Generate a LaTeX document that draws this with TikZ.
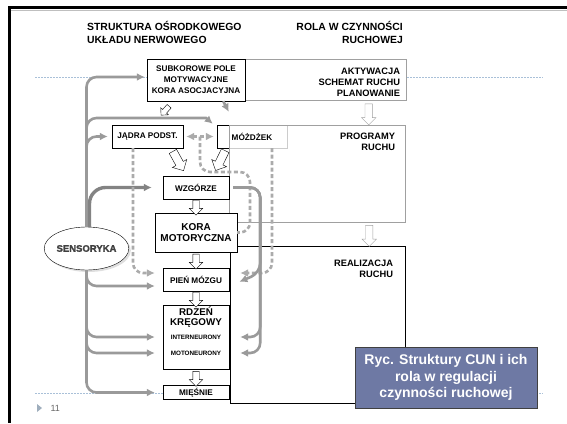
\documentclass[tikz,border=0pt]{standalone}
\usepackage{fontspec}
\setmainfont{Liberation Sans}
\newfontfamily\sensfont[FakeBold=1.6]{Liberation Sans Bold}
\usetikzlibrary{arrows.meta,calc,shapes,shadows}
\definecolor{linegray}{HTML}{9A9A9A}
\definecolor{dashgray}{HTML}{ABABAB}
\definecolor{boxgray}{HTML}{A0A0A0}
\definecolor{capblue}{HTML}{6E79A4}
\definecolor{guideblue}{HTML}{A9C0D8}
\tikzset{
    %Define standard arrow tip
    >={Latex[length=8pt, width=8pt]},
    heading/.style={
      inner sep=0pt,
      font=\bfseries\fontsize{10.4}{13}\selectfont},
    box/.style={
      rectangle,
      draw=black, fill=white, thin,
      inner sep=1pt,
      align=center,
      font=\bfseries\fontsize{8.2}{11}\selectfont},
    rolebox/.style={
      rectangle,
      draw=boxgray, fill=white, thin},
    roletext/.style={
      anchor=north east,
      align=right, inner sep=0pt,
      font=\bfseries\fontsize{9.3}{11}\selectfont},
    feed/.style={
      ->, draw=linegray, line width=2.6pt,
      rounded corners=10pt},
    dfeed/.style={
      feed, draw=dashgray, dash pattern=on 4pt off 2.5pt},
    hollow/.style={
      single arrow, draw=black, fill=white, thin,
      inner xsep=0pt, inner ysep=3pt,
      minimum height=15pt, minimum width=0pt,
      single arrow head extend=3.5pt},
    guide/.style={
      draw=guideblue, line width=0.7pt, dash pattern=on 2pt off 1pt}
}
\begin{document}
\begin{tikzpicture}[x=1pt, y=-1pt]
    \useasboundingbox (0,0) rectangle (567,423);
    % slide frame
    \fill (8,5.5) rectangle (567,9);
    \fill (8,5.5) rectangle (10.5,423);
    \draw[gray!50] (10.5,10) -- (567,10);
    \draw[guide] (35,77) -- (543,77);
    \draw[guide] (35,393) -- (543,393);
    \fill[guideblue!80!black!80] (37,404) -- (42,408) -- (37,412) -- cycle;
    \node (slideno) [anchor=west, font=\fontsize{9}{10}\selectfont, text=black!60] at (47,408) {11};

    % headings
    \node (head-l) [heading, anchor=north west, align=left] at (87,21)
          {STRUKTURA OŚRODKOWEGO\\UKŁADU NERWOWEGO};
    \node (head-r) [heading, anchor=north east, align=right] at (403,21)
          {ROLA W CZYNNOŚCI\\RUCHOWEJ};

    % role boxes
    \node (akt) [rolebox, minimum width=206pt, minimum height=41pt] at (303,79.5) {};
    \node (real) [rolebox, draw=black, minimum width=175pt, minimum height=157pt] at (317.5,324.5) {};

    % structures
    \node (subkor) [box, minimum width=98pt, minimum height=42pt] at (196,80)
          {SUBKOROWE POLE\\MOTYWACYJNE\\KORA ASOCJACYJNA};
    \node (jadra) [box, minimum width=71pt, minimum height=23pt] at (147.5,136.5)
          {JĄDRA PODST.};
    \node (mozdzek) [box, draw=gray!40, minimum width=70pt, minimum height=23pt] at (252,136.5)
          {MÓŻDŻEK};
    \draw ([xshift=12pt]mozdzek.north west) -- (mozdzek.north west)
          -- (mozdzek.south west) -- ([xshift=12pt]mozdzek.south west);
    \node (prog) [rolebox, fill=none, minimum width=176pt, minimum height=97pt] at (317,173.5) {};
    \node (wzgorze) [box, minimum width=66pt, minimum height=23pt] at (196,187.5)
          {WZGÓRZE};
    \node (kora) [box, font=\bfseries\fontsize{10}{11}\selectfont,
          minimum width=82pt, minimum height=39pt] at (196,232.5)
          {KORA\\MOTORYCZNA};
    \node (pien) [box, minimum width=66pt, minimum height=23pt] at (196,279.5)
          {PIEŃ MÓZGU};
    \node (rdzen) [box, minimum width=66pt, minimum height=64pt] at (196,337) {};
    \node (rdzen-txt) [anchor=north, inner sep=0pt, align=center,
          font=\bfseries\fontsize{9.8}{9.5}\selectfont] at ([yshift=-2pt]rdzen.north)
          {RDZEŃ\\KRĘGOWY};
    \node (inter) [font=\bfseries\fontsize{6.3}{7}\selectfont, inner sep=0pt] at (rdzen.center)
          {INTERNEURONY};
    \node (moto) [font=\bfseries\fontsize{6.3}{7}\selectfont, inner sep=0pt] at ([yshift=-16pt]rdzen.center)
          {MOTONEURONY};
    \node (miesnie) [box, minimum width=66pt, minimum height=14pt] at (196,392.5)
          {MIĘŚNIE};
    \node (sensoryka) [ellipse, draw=black, fill=white, thin,
          drop shadow={shadow xshift=2pt, shadow yshift=-2pt, fill=gray!50},
          minimum width=73pt, minimum height=43pt, inner sep=0pt,
          font=\sensfont\fontsize{9.5}{11}\selectfont, text=black!75] at (86.5,248.5)
          {SENSORYKA};

    % roles
    \node (akt-txt) [roletext] at ([xshift=-6pt, yshift=-9pt]akt.north east)
          {AKTYWACJA\\SCHEMAT RUCHU\\PLANOWANIE};
    \node (prog-txt) [roletext] at ([xshift=-10pt, yshift=-8.5pt]prog.north east)
          {PROGRAMY\\RUCHU};
    \node (real-txt) [roletext] at ([xshift=-12pt, yshift=-14.5pt]real.north east)
          {REALIZACJA\\RUCHU};

    % sensory inputs
    \coordinate (mzbend) at (196,118);
    \draw[feed, shorten >=2pt] (sensoryka.north) |- ([yshift=3pt]subkor.west);
    \draw[feed] (sensoryka.north) |- (mzbend)
          .. controls +(10,0) .. ([xshift=-4pt, yshift=1pt]mozdzek.north west);
    \draw[feed, shorten >=4pt] (sensoryka.north) |- (jadra.west);
    \draw[feed, line width=3.4pt, draw=linegray!85!black, rounded corners=16pt, shorten >=11pt]
          ([xshift=3pt]sensoryka.north) |- (wzgorze.west);
    \draw[feed, shorten >=8pt] (sensoryka.south) |- ([yshift=-6.5pt]pien.west);
    \draw[feed, shorten >=8pt] (sensoryka.south) |- (rdzen.west |- inter);
    \draw[feed, shorten >=8pt] (sensoryka.south) |- (rdzen.west |- moto);
    \draw[feed, shorten >=8pt] (sensoryka.south) |- (miesnie.west);

    % loops
    \draw[feed] ([xshift=-22pt]subkor.south east) -- ([xshift=12pt, yshift=13pt]mozdzek.north west);
    \draw[dfeed, shorten >=8pt] ([xshift=-14.5pt]jadra.south) |- ([yshift=6.5pt]pien.west);
    \draw[dfeed, <->, shorten <=3pt, shorten >=3pt] (jadra.east) -- (mozdzek.west);
    \coordinate (loop) at (250,172);
    \draw[dfeed, -] ($(jadra.east)!0.5!(mozdzek.west)$) |- (loop) |- (kora.east);
    \draw[dfeed, shorten >=11pt] ([xshift=20pt]mozdzek.south) |- ([yshift=6.5pt]pien.east);
    \draw[feed, shorten <=4pt, shorten >=11pt] (wzgorze.east)
          -| ($(pien.east)+(31,-6.5)$) -- ([yshift=-6.5pt]pien.east);
    \draw[feed, shorten <=4pt, shorten >=11pt] (wzgorze.east)
          -| ($(rdzen.east |- inter)+(31,0)$) -- (rdzen.east |- inter);
    \draw[feed, shorten <=4pt, shorten >=11pt] (wzgorze.east)
          -| ($(rdzen.east |- moto)+(31,0)$) -- (rdzen.east |- moto);

    % flow arrows
    \node (h-akt) [hollow, draw=boxgray, rotate=-90, minimum height=21pt, inner ysep=3.5pt]
          at ($(akt.south east)!0.5!(prog.north east)+(-37,0)$) {};
    \node (h-prog) [hollow, draw=boxgray, rotate=-90, minimum height=21pt, inner ysep=3.5pt]
          at ($(prog.south east)!0.5!(real.north east)+(-36,0)$) {};
    \node (h-subkor) [hollow, rotate=-132, minimum height=12pt, inner ysep=2.5pt, single arrow head extend=2.5pt]
          at ($(subkor.south)+(-30,8.5)$) {};
    \node (h-jadra) [hollow, rotate=-61, minimum height=22pt, inner ysep=4pt, single arrow head extend=4pt]
          at ($(jadra.south east)+(-6,11)$) {};
    \node (h-mozdzek) [hollow, rotate=-116, minimum height=22pt, inner ysep=4pt, single arrow head extend=4pt]
          at ($(mozdzek.south west)+(4.5,10.5)$) {};
    \node (h-wzgorze) [hollow, rotate=-90] at ($(wzgorze.south)!0.5!(kora.north)$) {};
    \node (h-kora) [hollow, rotate=-90] at ($(kora.south)!0.5!(pien.north)$) {};
    \node (h-pien) [hollow, rotate=-90] at ($(pien.south)!0.5!(rdzen.north)$) {};
    \node (h-rdzen) [hollow, rotate=-90] at ($(rdzen.south)!0.5!(miesnie.north)$) {};

    % caption
    \node (caption) [rectangle, fill=capblue, draw=black!75, text=white, align=center,
          minimum width=182pt, minimum height=61pt,
          font=\bfseries\fontsize{14}{16.5}\selectfont] at (446,377.5)
          {Ryc. Struktury CUN i ich\\rola w regulacji\\czynności ruchowej};
\end{tikzpicture}
\end{document}
